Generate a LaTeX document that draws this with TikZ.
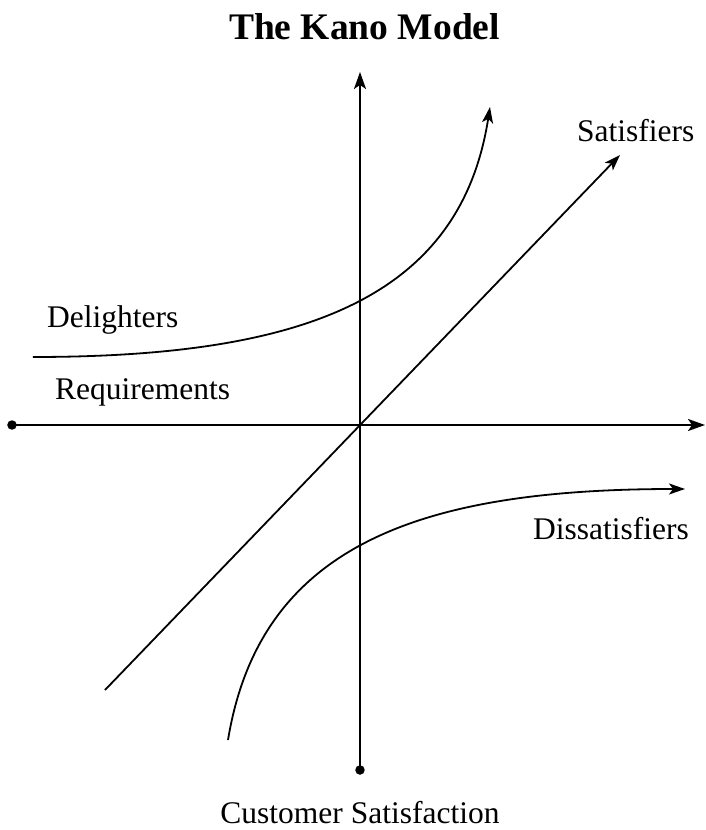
\documentclass[tikz,border=0pt]{standalone}
\usepackage{fontspec}
\setmainfont{Liberation Serif}
\usetikzlibrary{arrows.meta}
\begin{document}
\begin{tikzpicture}[x=1pt,y=1pt,
  axis/.style={line width=2pt,-{Stealth[length=17pt,width=12pt,inset=4pt]}},
  curve/.style={line width=1.8pt,-{Stealth[length=16pt,width=11pt,inset=4pt]}},
  lbl/.style={inner sep=0pt,font=\fontsize{31.5}{36}\selectfont},
  dot/.style={circle,fill=black,inner sep=0pt,minimum size=9.5pt}]
\useasboundingbox (-360,-405) rectangle (345,425);
% axes
\coordinate (O) at (0,0);
\node[dot] (xl) at (-348,0) {};
\coordinate (xr) at (345,0);
\node[dot] (yb) at (0,-345) {};
\coordinate (yt) at (0,353);
\draw[axis] (xl.center) -- (xr);
\draw[axis] (yb.center) -- (yt);
% satisfiers
\coordinate (s1) at (-255,-265);
\coordinate (s2) at (260,270);
\draw[curve] (s1) -- (s2);
% delighters
\coordinate (d1) at (-327,68);
\coordinate (d2) at (130,318);
\draw[curve] (d1) .. controls (-60,68) and (100,125) .. (d2);
% dissatisfiers
\coordinate (e1) at (-132,-315);
\coordinate (e2) at (325,-64);
\draw[curve] (e1) .. controls (-100,-120) and (60,-64) .. (e2);
% labels
\node[anchor=base,inner sep=0pt,font=\fontsize{37.5}{42}\selectfont\bfseries] (title) at (4.5,385) {The Kano Model};
\node[lbl,anchor=base west] (lsat) at (217,283) {Satisfiers};
\node[lbl,anchor=base west] (ldel) at (-313,97) {Delighters};
\node[lbl,anchor=base west] (lreq) at (-305,25) {Requirements};
\node[lbl,anchor=base west] (ldis) at (173,-114) {Dissatisfiers};
\node[lbl,anchor=base] (lcs) at (0,-398) {Customer Satisfaction};
\end{tikzpicture}
\end{document}
